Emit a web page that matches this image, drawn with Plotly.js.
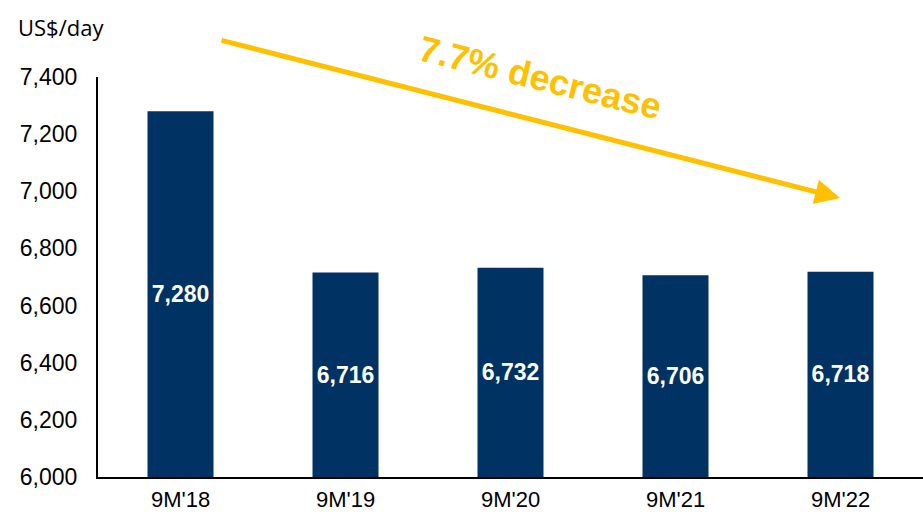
<!DOCTYPE html>
<html>
<head>
<meta charset="utf-8">
<script src="https://cdn.plot.ly/plotly-3.0.1.min.js"></script>
<style>html,body{margin:0;padding:0;background:#fff;}#chart{width:923px;height:516px;}</style>
</head>
<body>
<div id="chart"></div>
<script>
const categories = ["9M'18", "9M'19", "9M'20", "9M'21", "9M'22"];
const values = [7280, 6716, 6732, 6706, 6718];
const labels = ["7,280", "6,716", "6,732", "6,706", "6,718"];
const yTicks = [6000, 6200, 6400, 6600, 6800, 7000, 7200, 7400];
const yTickText = ["6,000", "6,200", "6,400", "6,600", "6,800", "7,000", "7,200", "7,400"];
const axisMin = 6000;
const axisMax = 7400;
const unitLabel = "US$/day";
const trendLabel = "7.7% decrease";

const trace = {
  type: 'bar',
  x: categories,
  base: values.map(() => axisMin),
  y: values.map(v => v - axisMin),
  text: labels,
  textposition: 'inside',
  insidetextanchor: 'middle',
  textangle: 0,
  constraintext: 'none',
  textfont: {family: 'Liberation Sans, Arial, sans-serif', size: 23, color: '#ffffff', weight: 'bold'},
  marker: {color: '#003263'},
  hoverinfo: 'none'
};

const layout = {
  width: 923, height: 516,
  margin: {l: 98, r: 0, t: 77, b: 39, pad: 0},
  paper_bgcolor: '#ffffff', plot_bgcolor: '#ffffff',
  bargap: 0.6,
  showlegend: false,
  font: {family: 'Liberation Sans, Arial, sans-serif', color: '#000'},
  xaxis: {
    type: 'category',
    showline: true, linecolor: '#000', linewidth: 2,
    showgrid: false, zeroline: false, ticks: '',
    tickfont: {size: 22, color: '#000'},
    ticklabelstandoff: 2
  },
  yaxis: {
    range: [axisMin, axisMax],
    tickvals: yTicks, ticktext: yTickText,
    showline: true, linecolor: '#000', linewidth: 2,
    showgrid: false, zeroline: false, ticks: '',
    tickfont: {size: 23, color: '#000'},
    ticklabelstandoff: 14
  },
  annotations: [
    {
      xref: 'paper', yref: 'paper',
      x: (840 - 98) / 825, y: (477 - 198) / 400,
      ax: -620, ay: -158, axref: 'pixel', ayref: 'pixel',
      showarrow: true, arrowhead: 2, arrowsize: 1, arrowwidth: 5,
      arrowcolor: '#FFC000', text: ''
    },
    {
      xref: 'paper', yref: 'paper',
      x: (540 - 98) / 825, y: (477 - 78) / 400,
      xanchor: 'center', yanchor: 'middle',
      text: '<b>' + trendLabel + '</b>', textangle: 14,
      showarrow: false,
      font: {family: 'Liberation Sans, Arial, sans-serif', size: 36, color: '#FFC000'}
    },
    {
      xref: 'paper', yref: 'paper',
      x: (16 - 98) / 825, y: (477 - 27) / 400,
      xanchor: 'left', yanchor: 'middle',
      text: unitLabel, showarrow: false,
      font: {family: 'Open Sans, Noto Sans, sans-serif', size: 22, color: '#000'}
    }
  ]
};

Plotly.newPlot('chart', [trace], layout, {displayModeBar: false, staticPlot: true});
</script>
</body>
</html>
